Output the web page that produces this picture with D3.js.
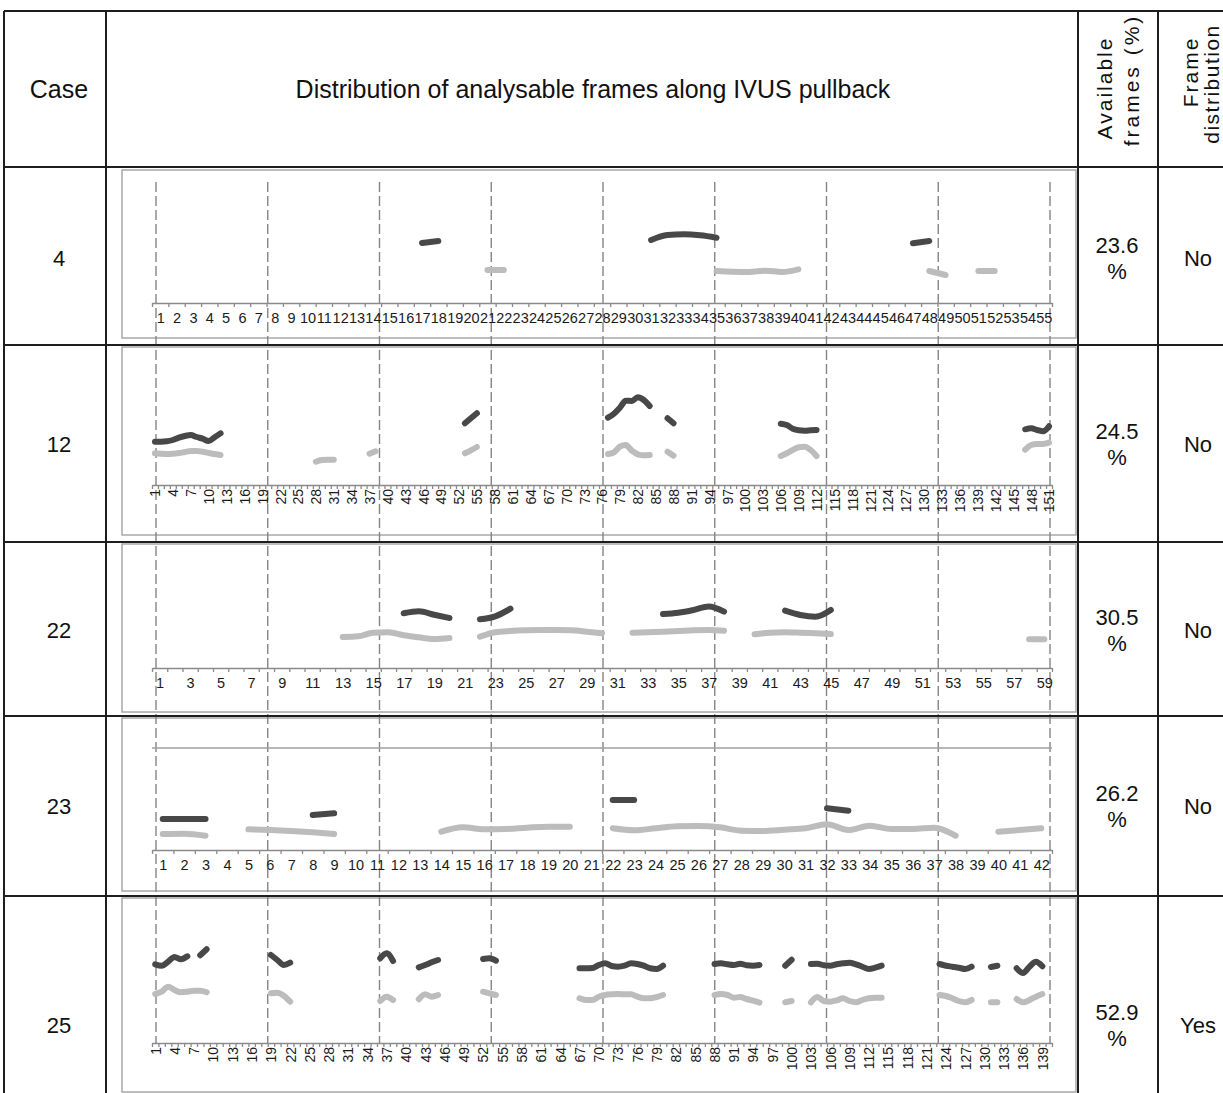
<!DOCTYPE html>
<html>
<head>
<meta charset="utf-8">
<script src="https://cdn.jsdelivr.net/npm/d3@7"></script>
<style>
  body { margin: 0; background: #fff; }
  text { font-family: "Liberation Sans", Arial, sans-serif; }
</style>
</head>
<body>
<svg id="chart" width="1223" height="1093"></svg>
<script>
// ---- data ----
const caseIds = ["4", "12", "22", "23", "25"];
const frameCounts = [55, 151, 59, 42, 140];
const labelSteps = [1, 3, 2, 1, 3];
const availableFrames = ["23.6", "24.5", "30.5", "26.2", "52.9"];
const frameDistribution = ["No", "No", "No", "No", "Yes"];

// runs of analysable frames: [first frame, values for consecutive frames]
const case4Dark = [[17, [60, 62]], [31, [63, 68, 68.7, 67.7, 65.3]], [47, [59.7, 62]]];
const case4Light = [[21, [33, 33]], [35, [32, 31.3, 31, 32.3, 31, 33.7]], [48, [32, 28]], [51, [32, 32]]];

const case12Dark = [[1, [43.3, 43.3, 43.7, 45, 47.3, 49, 50, 48, 46.3, 44, 47.7, 51.7]], [53, [61.7, 66.7, 71.7]],
  [77, [67.3, 71.3, 77.3, 84.3, 84, 87.7, 85, 79]], [87, [66.7, 61.7]],
  [106, [61.3, 60, 56.3, 54.7, 54.3, 54.7, 55]], [147, [55.7, 56.7, 55, 53.7, 58.7]]];
const case12Light = [[1, [31.7, 31.3, 31, 31.3, 32, 33, 34, 34, 33.3, 32, 31, 30]], [28, [23.3, 25, 25.3, 25.3]],
  [37, [31.3, 33.7]], [53, [31.7, 34.7, 38]], [77, [31, 32.7, 38.3, 40, 34.3, 30.7, 29.7, 30]], [87, [33.3, 29.3]],
  [106, [29, 31.7, 35, 37.7, 38.3, 35, 29]], [147, [35.3, 40, 41, 41, 42.3]]];

const case22Dark = [[17, [54.7, 56.7, 53.3, 50]], [22, [48.7, 51.7, 59.3]], [34, [54, 55.3, 58, 61.5, 56.3]],
  [42, [57.3, 53, 51.3, 58]]];
const case22Light = [[13, [31, 31.7, 35.3, 35.7, 32.7, 30.7, 29, 30]], [22, [31.3, 35.7, 37, 37.7, 38, 38, 37.7, 36.3, 34.7]],
  [32, [35.3, 35.7, 36.3, 37, 37.7, 38, 37.3]], [40, [33.7, 35.3, 35.7, 35.3, 34.7, 34]], [58, [28.7, 28.7]]];

const case23Dark = [[1, [31, 31, 31]], [8, [35, 36.7]], [22, [50, 50]], [32, [41.7, 39.3]]];
const case23Light = [[1, [16, 16.3, 14.3]], [5, [20.7, 20, 19, 17.7, 16]], [14, [18.3, 22.7, 20.7, 21, 22.3, 23.3, 23.3]],
  [22, [21.7, 19.7, 21.7, 23.7, 24, 22.7, 19.3, 19, 20.3, 21.7, 25.7, 20, 24.3, 21, 21, 22.3, 14.3]],
  [40, [18.3, 20, 21.7]]];

const case25Dark = [[1, [78.7, 77.3, 81.3, 86, 83.7, 86.7]], [8, [87.7, 93.7]], [19, [88, 83, 78, 80.3]],
  [36, [84.7, 89.7, 82]], [42, [75.7, 78, 80.7, 83]], [52, [84, 84.7, 82.3]],
  [67, [74.7, 74.7, 75, 78, 79.7, 77, 76.3, 77.3, 79.7, 79, 77.3, 74.7, 74, 77.3]],
  [88, [79, 79.7, 78.7, 78, 79.3, 77.7, 77.3, 78]], [99, [77.3, 83.3]],
  [103, [79, 79.3, 77.7, 77.3, 78.7, 79.7, 80.3, 78.7, 76.3, 74, 75.3, 77.3]],
  [123, [79, 77.3, 76.3, 75.3, 74, 76.3]], [131, [76, 77.3]], [135, [74.7, 70, 76.3, 81.3, 76.7]]];
const case25Light = [[1, [49, 51.3, 56.3, 53, 50.7, 51.3, 52.3, 52.3, 50.7]], [19, [49.7, 50.3, 47.3, 41.3]],
  [36, [42, 46.3, 43]], [42, [43.7, 48.7, 46.3, 48]], [52, [51.3, 49.7, 48]],
  [67, [44.7, 43, 43, 46.3, 48, 48.7, 49, 48.7, 48.7, 46.3, 44.7, 44.7, 46, 48]],
  [88, [48, 49, 48, 45.3, 46, 44, 42.3, 40.3]], [99, [40.7, 42]],
  [103, [40.7, 46, 42, 41.3, 42.7, 44.7, 42, 40.7, 43, 44.7, 45.3, 45.3]],
  [123, [48, 47, 44.7, 42, 40.7, 43]], [131, [40.7, 40.7]], [135, [44, 40.7, 43, 46.3, 49]]];

const darkSeries = [case4Dark, case12Dark, case22Dark, case23Dark, case25Dark];
const lightSeries = [case4Light, case12Light, case22Light, case23Light, case25Light];

// ---- layout ----
const rows = [
  { top: 167, bottom: 345, boxTop: 170, boxBottom: 338, axisY: 303, rotate: false, textY: 258 },
  { top: 345, bottom: 542, boxTop: 347, boxBottom: 535, axisY: 485, rotate: true, textY: 444 },
  { top: 542, bottom: 716, boxTop: 544, boxBottom: 712, axisY: 668, rotate: false, textY: 630 },
  { top: 716, bottom: 896, boxTop: 718, boxBottom: 891, axisY: 850, rotate: false, textY: 806, plotTop: 748 },
  { top: 896, bottom: 1150, boxTop: 898, boxBottom: 1092, axisY: 1043, rotate: true, textY: 1025 }
];
const colX = [4, 106, 1078, 1158];
const plotLeft = 152, plotRight = 1052;
const boxLeft = 122, boxRight = 1076;

const svg = d3.select("#chart");

function expand(runs, n) {
  const vals = new Array(n + 1).fill(null);
  runs.forEach(([start, v]) => v.forEach((d, i) => { vals[start + i] = d; }));
  return d3.range(1, n + 1).map(f => ({ frame: f, value: vals[f] }));
}

// chart boxes
rows.forEach(r => {
  svg.append("rect")
    .attr("x", boxLeft).attr("y", r.boxTop)
    .attr("width", boxRight - boxLeft).attr("height", r.boxBottom - r.boxTop)
    .attr("fill", "none").attr("stroke", "#a8a8a8").attr("stroke-width", 1.5);
});

// dashed pullback segment lines, shared by all rows
const segX = d3.scaleLinear().domain([0, 8]).range([plotLeft + 4, plotRight - 2]);
svg.append("g").selectAll("line")
  .data(d3.range(0, 9))
  .join("line")
  .attr("x1", d => segX(d)).attr("x2", d => segX(d))
  .attr("y1", 182).attr("y2", rows[4].axisY)
  .attr("stroke", "#858585").attr("stroke-width", 1.4)
  .attr("stroke-dasharray", "10,4");

rows.forEach((r, i) => {
  const n = frameCounts[i];
  const x = d3.scaleLinear().domain([0.5, n + 0.5]).range([plotLeft, plotRight]);
  const y = d3.scaleLinear().domain([0, 100]).range([r.axisY, r.axisY - 100]);
  const g = svg.append("g");

  if (r.plotTop) {
    g.append("line")
      .attr("x1", plotLeft).attr("x2", plotRight)
      .attr("y1", r.plotTop).attr("y2", r.plotTop)
      .attr("stroke", "#a0a0a0").attr("stroke-width", 1.5);
  }

  // tick marks between frames
  const tickAxis = d3.axisBottom(x)
    .tickValues(d3.range(0.5, n + 1, 1))
    .tickSize(4).tickSizeOuter(0).tickFormat("");
  const ta = g.append("g").attr("transform", `translate(0,${r.axisY})`).call(tickAxis);
  ta.selectAll("path, line").attr("stroke", "#8a8a8a").attr("stroke-width", 1.3);

  // labels
  const labels = d3.range(1, n + 1, labelSteps[i]);
  const labelAxis = d3.axisBottom(x).tickValues(labels).tickSize(0).tickFormat(d3.format("d"));
  const la = g.append("g").attr("transform", `translate(0,${r.axisY})`).call(labelAxis);
  la.select(".domain").remove();
  la.attr("font-size", null).attr("font-family", null);
  la.selectAll("text")
    .attr("fill", "#1a1a1a").attr("font-size", r.rotate ? 14 : 14.5);
  if (r.rotate) {
    la.selectAll("text")
      .attr("transform", "rotate(-90)")
      .attr("text-anchor", "end")
      .attr("x", -4).attr("y", 0).attr("dy", "0.35em");
  } else {
    la.selectAll("text").attr("y", 10);
  }

  const line = d3.line()
    .defined(d => d.value != null)
    .x(d => x(d.frame)).y(d => y(d.value))
    .curve(d3.curveMonotoneX);

  g.append("path").datum(expand(lightSeries[i], n))
    .attr("d", line).attr("fill", "none")
    .attr("stroke", "#bcbcbc").attr("stroke-width", 6)
    .attr("stroke-linecap", "round").attr("stroke-linejoin", "round");
  g.append("path").datum(expand(darkSeries[i], n))
    .attr("d", line).attr("fill", "none")
    .attr("stroke", "#484848").attr("stroke-width", 6)
    .attr("stroke-linecap", "round").attr("stroke-linejoin", "round");

  // table text
  svg.append("text").attr("x", 59).attr("y", r.textY)
    .attr("text-anchor", "middle").attr("dominant-baseline", "central")
    .attr("font-size", 22).attr("fill", "#111").text(caseIds[i]);
  svg.append("text").attr("x", 1117).attr("y", r.textY - 13)
    .attr("text-anchor", "middle").attr("dominant-baseline", "central")
    .attr("font-size", 22).attr("fill", "#111").text(availableFrames[i]);
  svg.append("text").attr("x", 1117).attr("y", r.textY + 13)
    .attr("text-anchor", "middle").attr("dominant-baseline", "central")
    .attr("font-size", 22).attr("fill", "#111").text("%");
  svg.append("text").attr("x", 1198).attr("y", r.textY)
    .attr("text-anchor", "middle").attr("dominant-baseline", "central")
    .attr("font-size", 22).attr("fill", "#111").text(frameDistribution[i]);
});

// table lines
const lineColor = "#1e1e1e";
[11, 167, 345, 542, 716, 896].forEach(yy => {
  svg.append("line").attr("x1", colX[0]).attr("x2", 1223).attr("y1", yy).attr("y2", yy)
    .attr("stroke", lineColor).attr("stroke-width", 2);
});
colX.forEach(xx => {
  svg.append("line").attr("x1", xx).attr("x2", xx).attr("y1", 11).attr("y2", 1093)
    .attr("stroke", lineColor).attr("stroke-width", 2);
});

// header
svg.append("text").attr("x", 59).attr("y", 89)
  .attr("text-anchor", "middle").attr("dominant-baseline", "central")
  .attr("font-size", 25).attr("fill", "#111").text("Case");
svg.append("text").attr("x", 593).attr("y", 89)
  .attr("text-anchor", "middle").attr("dominant-baseline", "central")
  .attr("font-size", 25).attr("fill", "#111").text("Distribution of analysable frames along IVUS pullback");

const vHeaders = [
  { x: 1104, y: 88, t: "Available", ls: 2 },
  { x: 1131, y: 80, t: "frames (%)", ls: 3 },
  { x: 1190, y: 72, t: "Frame", ls: 2 },
  { x: 1211, y: 84, t: "distribution", ls: 1.5 }
];
vHeaders.forEach(h => {
  svg.append("text")
    .attr("transform", `translate(${h.x},${h.y}) rotate(-90)`)
    .attr("text-anchor", "middle").attr("dominant-baseline", "central")
    .attr("font-size", 21).attr("letter-spacing", h.ls).attr("fill", "#111").text(h.t);
});
</script>
</body>
</html>
